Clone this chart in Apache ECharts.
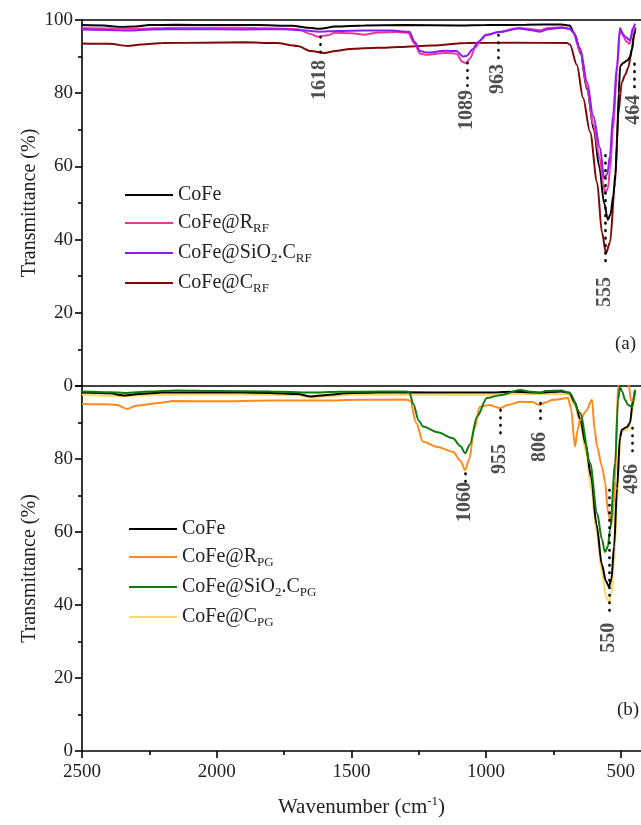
<!DOCTYPE html>
<html>
<head>
<meta charset="utf-8">
<script src="https://cdn.jsdelivr.net/npm/echarts@6/dist/echarts.min.js"></script>
<style>
  html, body { margin: 0; padding: 0; background: #fff; }
  #ftir { width: 641px; height: 825px; }
</style>
</head>
<body>
<div id="ftir"></div>
<script>
// ---- data: [wavenumber (cm-1), transmittance (%)] ----
var cofeA = [[2500,98.6],[2420,98.5],[2360,98.1],[2300,98.2],[2250,98.6],[2150,98.7],[2000,98.6],[1850,98.6],[1720,98.4],[1660,97.9],[1618,97.6],[1560,98.2],[1450,98.5],[1300,98.6],[1100,98.5],[1000,98.6],[850,98.7],[720,98.8],[690,98.5],[670,96],[650,91],[625,81],[600,70],[580,60],[562,50],[548,45.4],[538,47],[528,52],[520,58],[514,66],[508,80],[502,87.5],[490,88.3],[475,89],[466,89.8],[458,92],[452,95.5],[446,98]];
var rrfA = [[2500,97.8],[2400,97.7],[2300,97.6],[2200,97.8],[2000,97.9],[1850,97.8],[1700,97.5],[1650,96.2],[1625,95.4],[1590,95.8],[1560,96.5],[1500,96.4],[1450,96],[1400,96.6],[1330,96.7],[1290,96.5],[1265,93.5],[1245,90.8],[1220,90.5],[1150,91],[1110,90.8],[1088,88.6],[1075,88.2],[1060,89.5],[1040,92.5],[1020,94.5],[1000,95.8],[950,96.8],[880,97.8],[830,97.5],[800,97.2],[770,97.8],[720,98],[690,97.7],[677,96.5],[651,91.5],[625,81.5],[603,71.5],[577,62],[565,55],[558,52.7],[548,54],[540,59],[529,70],[514,86],[505,96],[500,97.3],[490,95.5],[480,94.2],[468,93.5],[458,96],[448,98]];
var sioRfA = [[2500,97.4],[2400,97.3],[2320,97.1],[2250,97.4],[2100,97.5],[1900,97.4],[1750,97.5],[1680,97.2],[1620,96.8],[1550,97],[1450,97.1],[1350,97.1],[1285,96.8],[1265,94],[1245,91.5],[1220,91.1],[1150,91.6],[1110,91.5],[1085,90],[1072,90.2],[1050,92],[1030,94],[1000,96],[950,96.7],[880,97.7],[830,97.2],[800,96.8],[770,97.5],[720,97.9],[690,97.6],[677,96.8],[651,92.3],[625,83],[603,74],[577,65],[562,56.8],[550,58],[540,63],[529,74],[514,87.7],[503,97.8],[495,96.5],[484,95.4],[466,94.5],[455,97.8],[447,99]];
var crfA = [[2500,93.6],[2400,93.5],[2330,92.9],[2280,93.3],[2200,93.7],[2050,93.8],[1900,93.9],[1780,93.7],[1700,92.9],[1650,91.5],[1600,91],[1560,91.5],[1505,92.1],[1400,92.4],[1320,92.6],[1200,93],[1071,93.7],[900,93.8],[700,93.7],[689,93.3],[663,87.7],[640,78.7],[614,69.4],[588,55.7],[570,42],[555,36.3],[540,39.3],[521,55.7],[510,74],[496,83],[484,85],[473,86.9],[458,92.3],[451,95.9],[446,97.5]];

var cofeB = [[2500,98.2],[2400,98],[2340,97.4],[2290,97.8],[2200,98.2],[2000,98.3],[1800,98.1],[1700,97.8],[1650,97.1],[1600,97.5],[1500,98.1],[1300,98.3],[1100,98.2],[1000,98.2],[900,98.4],[800,98.2],[720,98.5],[692,98.2],[670,95.5],[651,91],[630,84],[610,75],[590,62],[570,51],[555,46.5],[544,45],[535,47],[525,56],[514,72],[503,86],[496,88],[477,88.8],[466,89.9],[455,96],[448,98.5]];
var rpgB = [[2500,95.1],[2420,95],[2370,94.8],[2333,93.7],[2300,94.6],[2200,95.5],[2162,95.9],[2000,95.8],[1800,96],[1600,96],[1480,96.2],[1300,96.3],[1282,96],[1260,90],[1234,84.7],[1180,83.3],[1123,82],[1095,79.5],[1078,77],[1062,80],[1045,88],[1023,94.3],[986,94.8],[948,93.9],[920,94.8],[874,95.7],[830,95.6],[800,94.8],[780,95.5],[752,96.2],[696,96.7],[685,94],[670,83.4],[660,88],[651,90.7],[630,93],[607,96.2],[597,88],[588,83.4],[570,78],[559,74],[547,65.2],[535,62],[525,68],[521,74],[514,92.6],[510,100],[500,104],[480,104],[470,100],[462,96],[455,96],[448,98]];
var sioPgB = [[2500,98.5],[2400,98.3],[2340,98.1],[2250,98.5],[2150,98.8],[2000,98.6],[1800,98.5],[1650,98.2],[1550,98.4],[1400,98.5],[1300,98.5],[1285,98.3],[1270,95],[1250,90.5],[1234,88.9],[1180,87.3],[1123,85.7],[1095,83.5],[1078,81.6],[1060,84],[1034,91.6],[997,96.7],[948,97.5],[874,98.9],[830,98.4],[800,98],[780,98.6],[720,98.8],[689,98],[651,92.6],[614,78.9],[588,65.2],[570,58],[559,54.5],[548,56],[540,60.5],[521,78.9],[510,96.2],[503,99.7],[495,98.5],[484,96.2],[473,94.8],[458,94.2],[447,99]];
var cpgB = [[2500,97.6],[2340,97.2],[2200,97.6],[1900,97.7],[1700,97.5],[1640,96.8],[1580,97.2],[1500,97.6],[1200,97.6],[1000,97.5],[900,97.8],[700,97.8],[690,97.4],[670,94.5],[650,89.5],[630,82],[610,72],[590,60],[570,49],[555,42.5],[544,40.8],[535,43],[525,52],[514,68],[503,84],[496,87.5],[477,88],[466,89.3],[458,93],[452,96],[447,98]];

// legend names and their rich-text labels
var namesA = ['CoFe', 'CoFe@R_RF', 'CoFe@SiO2.C_RF', 'CoFe@C_RF'];
var namesB = ['CoFe ', 'CoFe@R_PG', 'CoFe@SiO2.C_PG', 'CoFe@C_PG'];
var labelsA = ['CoFe', 'CoFe@R{s|RF}', 'CoFe@SiO{s|2}.C{s|RF}', 'CoFe@C{s|RF}'];
var labelsB = ['CoFe', 'CoFe@R{s|PG}', 'CoFe@SiO{s|2}.C{s|PG}', 'CoFe@C{s|PG}'];
var colorsA = ['#000000', '#f0369a', '#8c1cff', '#800808'];
var colorsB = ['#000000', '#ff8a1c', '#0c7d0c', '#ffd85e'];

// peak annotations: label, position, dotted line top/bottom, label centre
var peakTextA = ['1618', '1089', '963', '555', '464'];
var peakPosA = [1617, 1071, 956, 559, 451];
var dotTopA = [95.4, 88.3, 95.9, 63, 88];
var dotBotA = [89.6, 81.4, 89.6, 32.5, 80.3];
var labelYA = [83.6, 75.4, 83.9, 25.7, 75.5];

var peakTextB = ['1060', '955', '806', '550', '496'];
var peakPosB = [1078, 948, 800, 544, 458];
var dotTopB = [76, 93.4, 95.3, 71.5, 88.5];
var dotBotB = [73.7, 86.6, 89.9, 37.8, 80.3];
var labelYB = [68.2, 80, 83.3, 31, 74.5];

var xTicks = [2500, 2000, 1500, 1000, 500];
var xMinor = [2250, 1750, 1250, 750];

window.onload = function () {
    showChart();
};

function showChart() {
    var myChart = echarts.init(document.getElementById('ftir'));
    var serif = 'Liberation Serif';

    var labelMap = {};
    namesA.forEach(function (n, i) { labelMap[n] = labelsA[i]; });
    namesB.forEach(function (n, i) { labelMap[n] = labelsB[i]; });

    function lineSeries(name, data, color, xi, yi) {
        return {
            name: name,
            type: 'line',
            xAxisIndex: xi,
            yAxisIndex: yi,
            data: data,
            symbol: 'none',
            smooth: 0.3,
            smoothMonotone: 'x',
            lineStyle: { color: color, width: 2 },
            itemStyle: { color: color },
            z: 3
        };
    }

    function peakSeries(texts, pos, tops, bots, ys, xi, yi) {
        var pts = [], lines = [];
        for (var i = 0; i < texts.length; i++) {
            pts.push({ name: texts[i], value: [pos[i], ys[i]] });
            lines.push([{ coord: [pos[i], tops[i]] }, { coord: [pos[i], bots[i]] }]);
        }
        return {
            type: 'scatter',
            xAxisIndex: xi,
            yAxisIndex: yi,
            symbolSize: 0,
            data: pts,
            silent: true,
            z: 5,
            label: {
                show: true,
                position: 'inside',
                rotate: 90,
                formatter: '{b}',
                fontFamily: serif,
                fontWeight: 'bold',
                fontSize: 20,
                color: '#222'
            },
            markLine: {
                symbol: 'none',
                silent: true,
                label: { show: false },
                lineStyle: { color: '#000', width: 2.6, type: [0.5, 7], cap: 'round' },
                data: lines
            }
        };
    }

    var axisLineStyle = { color: '#000', width: 1.6 };

    function yAxisCfg(gi, hideTop) {
        return {
            type: 'value',
            gridIndex: gi,
            min: 0,
            max: 100,
            interval: 20,
            name: 'Transmittance (%)',
            nameLocation: 'middle',
            nameGap: 42,
            nameMoveOverlap: false,
            nameTextStyle: { fontFamily: serif, fontSize: 20, color: '#222' },
            axisLine: { show: true, lineStyle: axisLineStyle },
            axisTick: { show: true, inside: false, length: 7, lineStyle: axisLineStyle },
            minorTick: { show: true, splitNumber: 2, length: 4, lineStyle: axisLineStyle },
            splitLine: { show: false },
            axisLabel: {
                fontFamily: serif, fontSize: 19, color: '#222', margin: 9,
                formatter: function (v) { return (hideTop && v === 100) ? '' : String(v); }
            }
        };
    }

    function legendCfg(names, left, top) {
        return {
            data: names,
            orient: 'vertical',
            left: left,
            top: top,
            itemWidth: 48,
            itemHeight: 14,
            itemGap: 8,
            icon: 'path://M0,6 L48,6 L48,8 L0,8 Z',
            formatter: function (n) { return labelMap[n]; },
            textStyle: {
                fontFamily: serif,
                fontSize: 20,
                color: '#222',
                rich: {
                    s: { fontFamily: serif, fontSize: 13, color: '#222', padding: [11, 0, 0, 0] }
                }
            }
        };
    }

    var option = {
        animation: false,
        backgroundColor: '#fff',
        title: [
            { text: '(a)', left: 610, top: 330, textStyle: { fontFamily: serif, fontSize: 19, fontWeight: 'normal', color: '#222' } },
            { text: '(b)', left: 612, top: 696, textStyle: { fontFamily: serif, fontSize: 19, fontWeight: 'normal', color: '#222' } }
        ],
        grid: [
            { left: 82, right: 0, top: 20, height: 366 },
            { left: 82, right: 0, top: 386, height: 365 }
        ],
        legend: [
            legendCfg(namesA, 120, 180),
            legendCfg(namesB, 124, 514)
        ],
        xAxis: [
            {
                type: 'value', gridIndex: 0, position: 'bottom', min: 425, max: 2500, inverse: true,
                axisLine: { show: true, lineStyle: axisLineStyle },
                axisTick: { show: false }, axisLabel: { show: false }, splitLine: { show: false }
            },
            {
                type: 'value', gridIndex: 0, position: 'top', min: 425, max: 2500, inverse: true,
                axisLine: { show: true, lineStyle: axisLineStyle },
                axisTick: { show: false }, axisLabel: { show: false }, splitLine: { show: false }
            },
            {
                type: 'value', gridIndex: 1, position: 'bottom', min: 425, max: 2500, inverse: true,
                name: 'Wavenumber (cm{sup|-1})',
                nameLocation: 'middle',
                nameGap: 44,
                nameMoveOverlap: false,
                nameTextStyle: {
                    fontFamily: serif, fontSize: 21, color: '#222',
                    rich: { sup: { fontFamily: serif, fontSize: 13, color: '#222', padding: [0, 0, 12, 0] } }
                },
                axisLine: { show: true, lineStyle: axisLineStyle },
                axisTick: { show: true, inside: false, length: 7, lineStyle: axisLineStyle, customValues: xTicks },
                axisLabel: {
                    fontFamily: serif, fontSize: 19, color: '#222', margin: 12, customValues: xTicks,
                    formatter: function (v) { return String(v); }
                },
                splitLine: { show: false }
            },
            {
                type: 'value', gridIndex: 1, position: 'bottom', offset: 0, min: 425, max: 2500, inverse: true,
                axisLine: { show: false },
                axisTick: { show: true, inside: false, length: 4, lineStyle: axisLineStyle, customValues: xMinor },
                axisLabel: { show: false }, splitLine: { show: false }
            }
        ],
        yAxis: [yAxisCfg(0, false), yAxisCfg(1, true)],
        series: [
            lineSeries(namesA[3], crfA, colorsA[3], 0, 0),
            lineSeries(namesA[0], cofeA, colorsA[0], 0, 0),
            lineSeries(namesA[1], rrfA, colorsA[1], 0, 0),
            lineSeries(namesA[2], sioRfA, colorsA[2], 0, 0),
            lineSeries(namesB[3], cpgB, colorsB[3], 2, 1),
            lineSeries(namesB[0], cofeB, colorsB[0], 2, 1),
            lineSeries(namesB[1], rpgB, colorsB[1], 2, 1),
            lineSeries(namesB[2], sioPgB, colorsB[2], 2, 1),
            peakSeries(peakTextA, peakPosA, dotTopA, dotBotA, labelYA, 0, 0),
            peakSeries(peakTextB, peakPosB, dotTopB, dotBotB, labelYB, 2, 1)
        ]
    };

    myChart.setOption(option);
}
</script>
</body>
</html>
